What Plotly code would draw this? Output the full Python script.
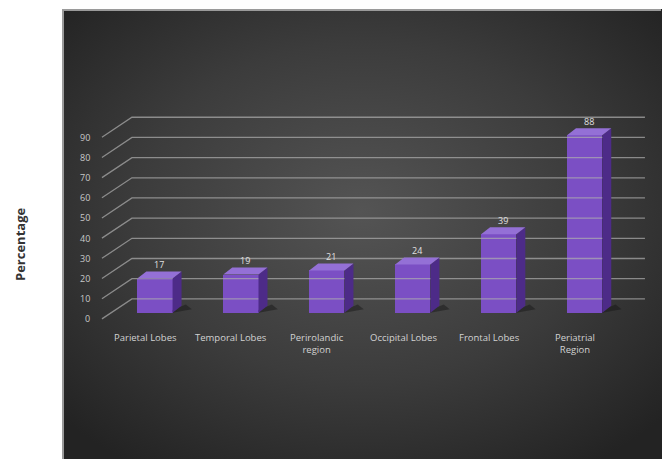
import base64
import plotly.graph_objects as go

# ---- data ----
categories = ["Parietal Lobes", "Temporal Lobes", "Perirolandic<br>region",
              "Occipital Lobes", "Frontal Lobes", "Periatrial<br>Region"]
values = [17, 19, 21, 24, 39, 88]
tick_values = [0, 10, 20, 30, 40, 50, 60, 70, 80, 90]
tick_labels = [str(t) for t in tick_values]
y_title = "Percentage"

# ---- geometry (style, pixels -> axis units) ----
PX_X = 593 / 6.9
PX_Y = 228 / 113.0
xs = list(range(len(categories)))
BAR_W = 0.41
BASE = 6 / PX_Y
DX, DY = 9 / PX_X, 7 / PX_Y
WALL_DX, WALL_DY = 30 / PX_X, 20 / PX_Y
FRONT_X0 = -53 / PX_X
RIGHT_X = 490 / PX_X

FRONT = "#7b4fc4"
SIDE = "#4d2b88"
TOP = "#9470d6"

fig = go.Figure()

# perspective gridlines
gx, gy = [], []
for v in tick_values:
    gx += [FRONT_X0, FRONT_X0 + WALL_DX, RIGHT_X, None]
    gy += [v, v + WALL_DY, v + WALL_DY, None]
fig.add_trace(go.Scatter(x=gx, y=gy, mode="lines",
                         line=dict(color="rgba(175,175,175,0.7)", width=1.3),
                         hoverinfo="skip", showlegend=False))

# floor shadows
for i, v in zip(xs, values):
    r = i + BAR_W / 2
    fig.add_trace(go.Scatter(
        x=[r, r + DX + 0.12, r + DX + 0.05, r],
        y=[BASE, BASE + DY * 0.5, BASE + DY * 1.2, BASE + DY * 0.4],
        fill="toself", fillcolor="rgba(20,20,20,0.45)", line=dict(width=0),
        mode="lines", hoverinfo="skip", showlegend=False))

# front faces
fig.add_trace(go.Bar(x=xs, y=values, base=[BASE] * len(values), width=BAR_W,
                     marker=dict(color=FRONT, line=dict(width=0)),
                     showlegend=False, hoverinfo="skip"))

# side and top faces
for i, v in zip(xs, values):
    l, r = i - BAR_W / 2, i + BAR_W / 2
    top = BASE + v
    fig.add_trace(go.Scatter(
        x=[r, r + DX, r + DX, r, r], y=[BASE, BASE + DY, top + DY, top, BASE],
        fill="toself", fillcolor=SIDE, line=dict(width=0), mode="lines",
        hoverinfo="skip", showlegend=False))
    fig.add_trace(go.Scatter(
        x=[l, r, r + DX, l + DX, l], y=[top, top, top + DY, top + DY, top],
        fill="toself", fillcolor=TOP, line=dict(width=0), mode="lines",
        hoverinfo="skip", showlegend=False))

annotations = []
for t, lab in zip(tick_values, tick_labels):
    annotations.append(dict(x=FRONT_X0 - 0.12, y=t, xref="x", yref="y", text=lab,
                            showarrow=False, xanchor="right", yanchor="middle",
                            font=dict(size=9, color="#c8c8c8", family="Open Sans")))
for i, c in zip(xs, categories):
    annotations.append(dict(x=i - 0.11, y=-5.0, xref="x", yref="y", text=c,
                            showarrow=False, xanchor="center", yanchor="top",
                            font=dict(size=9.5, color="#d2d2d2", family="Open Sans")))
for i, v in zip(xs, values):
    annotations.append(dict(x=i + 0.05, y=BASE + v + DY * 0.8, xref="x", yref="y", text=str(v),
                            showarrow=False, xanchor="center", yanchor="bottom",
                            font=dict(size=9, color="#e0e0e0", family="Open Sans")))
annotations.append(dict(x=(20 - 69) / 593, y=(335 - 245) / 228, xref="paper", yref="paper",
                        text="<b>" + y_title + "</b>", textangle=-90, showarrow=False,
                        xanchor="center", yanchor="middle",
                        font=dict(size=13, color="#333333", family="Open Sans")))

svg = ('<svg xmlns="http://www.w3.org/2000/svg" width="600" height="450">'
       '<defs><radialGradient id="g" cx="50%" cy="45%" r="68%">'
       '<stop offset="0" stop-color="#545454"/><stop offset="0.55" stop-color="#3c3c3c"/>'
       '<stop offset="1" stop-color="#232323"/></radialGradient></defs>'
       '<rect x="0" y="0" width="600" height="450" fill="url(#g)"/>'
       '<path d="M1,450 L1,1 L599,1" fill="none" stroke="#9a9a9a" stroke-width="2"/>'
       '</svg>')
src = "data:image/svg+xml;base64," + base64.b64encode(svg.encode()).decode()

fig.update_layout(
    width=664, height=459,
    margin=dict(l=69, r=2, t=107, b=124),
    paper_bgcolor="white", plot_bgcolor="rgba(0,0,0,0)",
    xaxis=dict(range=[-1.0, 5.9], visible=False, fixedrange=True),
    yaxis=dict(range=[-8, 105], visible=False, fixedrange=True),
    bargap=0, annotations=annotations,
    images=[dict(source=src, xref="paper", yref="paper",
                 x=(62 - 69) / 593, y=(335 - 9) / 228,
                 sizex=600 / 593, sizey=450 / 228,
                 xanchor="left", yanchor="top", sizing="stretch", layer="below")],
)

fig.write_html("out.html")
